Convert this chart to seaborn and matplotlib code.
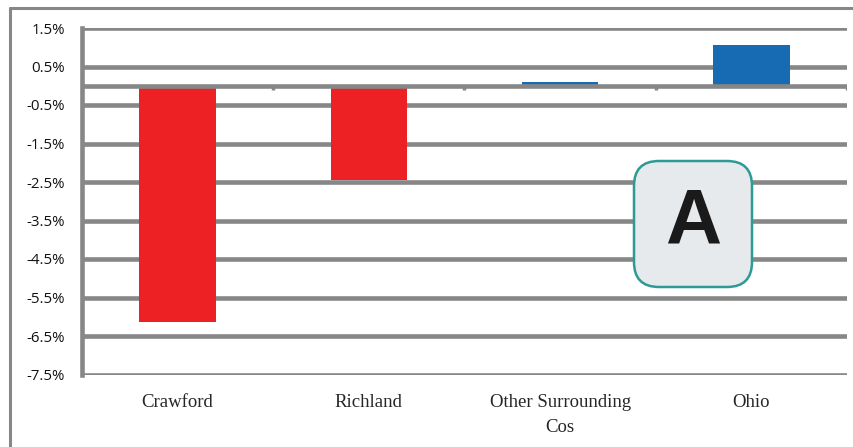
import matplotlib
matplotlib.use("Agg")
import matplotlib.pyplot as plt
from matplotlib.lines import Line2D
from matplotlib.patches import FancyBboxPatch
import seaborn as sns
import pandas as pd

# Percent change by area
categories = ["Crawford", "Richland", "Other Surrounding Cos", "Ohio"]
tick_labels = ["Crawford", "Richland", "Other Surrounding\nCos", "Ohio"]
values = [-6.13, -2.45, 0.1, 1.06]
bar_colors = ["#ED2024", "#ED2024", "#166BB2", "#166BB2"]
y_ticks = [1.5, 0.5, -0.5, -1.5, -2.5, -3.5, -4.5, -5.5, -6.5, -7.5]
y_tick_labels = ["1.5%", "0.5%", "-0.5%", "-1.5%", "-2.5%", "-3.5%",
                 "-4.5%", "-5.5%", "-6.5%", "-7.5%"]
panel_letter = "A"

GRID = "#878787"
W, H = 854, 447

sns.set_style("white")
fig = plt.figure(figsize=(W / 100, H / 100), dpi=100)
ax = fig.add_axes([82 / W, 1 - 374.5 / H, (847 - 82) / W, (374.5 - 28) / H])

df = pd.DataFrame({"area": categories, "change": values})
sns.barplot(data=df, x="area", y="change", hue="area",
            palette=dict(zip(categories, bar_colors)), saturation=1,
            width=0.4, legend=False, linewidth=0, ax=ax, zorder=2)

ax.set_xlim(-0.5, 3.5)
ax.set_ylim(-7.5, 1.5)

# horizontal gridlines behind the bars
ax.set_yticks(y_ticks, y_tick_labels)
ax.yaxis.grid(True, color=GRID, linewidth=3.3, zorder=0)
ax.set_axisbelow(True)
for gl in ax.get_ygridlines():
    gl.set_solid_capstyle("round")

for s in ["top", "right", "bottom"]:
    ax.spines[s].set_visible(False)
ax.spines["left"].set_color(GRID)
ax.spines["left"].set_linewidth(3.3)

ax.tick_params(axis="y", direction="out", length=4.5, width=3.3, color=GRID,
               pad=8, labelsize=10.8, labelcolor="#111111")
for t in ax.get_yticklabels():
    t.set_fontfamily("Open Sans")

ax.set_xticks(range(len(categories)), tick_labels)
ax.tick_params(axis="x", length=0, pad=14, labelsize=13.5)
for t in ax.get_xticklabels():
    t.set_fontfamily("Liberation Serif")
    t.set_linespacing(1.6)
ax.set_xlabel("")
ax.set_ylabel("")

# category axis at zero, drawn over the bars, with boundary ticks
ax.axhline(0, color=GRID, linewidth=3.3, solid_capstyle="round", zorder=4)
ax.vlines([0.5, 1.5, 2.5, 3.5], -0.1, 0, color=GRID, linewidth=2.5, zorder=4)

# outer frame (top and left edges)
fig.add_artist(Line2D([10 / W, 1], [1 - 8 / H, 1 - 8 / H], color=GRID,
                      linewidth=2.2, transform=fig.transFigure))
fig.add_artist(Line2D([10 / W, 10 / W], [0, 1 - 8 / H], color=GRID,
                      linewidth=2.2, transform=fig.transFigure))

# panel letter badge
box = FancyBboxPatch((6.34, 1.60), 1.18, 1.26,
                     boxstyle="round,pad=0,rounding_size=0.25",
                     facecolor="#E6EAED", edgecolor="#2E9A94", linewidth=1.8,
                     transform=fig.dpi_scale_trans, zorder=10)
fig.add_artist(box)
fig.text(6.93, 2.24, panel_letter, transform=fig.dpi_scale_trans,
         ha="center", va="center", fontsize=56, fontweight="bold",
         family="Liberation Sans", color="#1A1A1A", zorder=11)

fig.savefig("out.png", dpi=100)
